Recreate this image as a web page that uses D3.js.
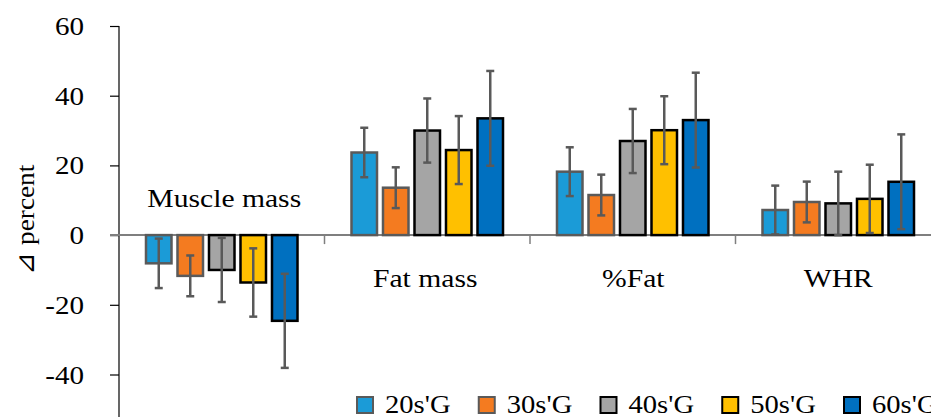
<!DOCTYPE html>
<html><head><meta charset="utf-8">
<script src="https://cdn.jsdelivr.net/npm/d3@7"></script>
<style>body{margin:0;background:#fff}svg{display:block}text{font-family:"Liberation Serif","DejaVu Serif",serif;fill:#000}</style>
</head><body><svg id="c" width="931" height="417"></svg>
<script>
const categories = ["Muscle mass","Fat mass","%Fat","WHR"];
const series = ["20s'G","30s'G","40s'G","50s'G","60s'G"];
const values = [
  [-8.1, 23.7, 18.2, 7.2],
  [-11.7, 13.6, 11.5, 9.5],
  [-10.0, 30.0, 27.0, 9.1],
  [-13.6, 24.4, 30.1, 10.4],
  [-24.6, 33.5, 33.0, 15.3]
];
const errors = [
  [7.1, 7.1, 7.0, 7.0],
  [5.85, 5.85, 5.85, 5.85],
  [9.2, 9.2, 9.2, 9.1],
  [9.8, 9.75, 9.75, 9.8],
  [13.5, 13.6, 13.6, 13.6]
];
const yTicks = [-40,-20,0,20,40,60];
const fills = ["#1B9BD7","#F47B20","#A5A5A5","#FFC000","#0070C0"];
const strokes = ["#5a5a5a","#5a5a5a","#000","#000","#000"];

const svg = d3.select("#c");
const y = d3.scaleLinear().domain([-40,60]).range([374.5,26]);
const x0 = d3.scaleBand().domain(categories).range([119, 941]);
const x1 = d3.scaleBand().domain(series).range([0,157.5]).paddingInner(0.19).paddingOuter(0.095);
const groupOff = (x0.bandwidth()-157.5)/2;

function stretchedText(parent, x, yy, str, anchor, sx){
  return parent.append("text").attr("transform",`translate(${x},${yy}) scale(${sx||1.14},1)`)
    .attr("text-anchor",anchor).style("font-size","26px").text(str);
}

// y axis
const yAxis = d3.axisLeft(y).tickValues(yTicks).tickSize(9).tickFormat(()=>"");
const ga = svg.append("g").attr("transform","translate(119,0)").call(yAxis);
ga.select(".domain").attr("d","M0,26V417").attr("stroke","#000").attr("stroke-width",1.2);
ga.selectAll(".tick line").attr("stroke","#000").attr("stroke-width",1.2);
yTicks.forEach(t=>stretchedText(svg, 84, y(t)+9, String(t), "end", 1.12));

// axis title
svg.append("text").attr("transform","translate(34,220) rotate(-90) scale(1.05,1)").attr("text-anchor","middle")
  .style("font-size","26px").text("⊿ percent");

// zero line
svg.append("line").attr("x1",110).attr("x2",931).attr("y1",y(0)).attr("y2",y(0)).attr("stroke","#7f7f7f").attr("stroke-width",2);
// category ticks
categories.slice(1).forEach(c=>{
  svg.append("line").attr("x1",x0(c)).attr("x2",x0(c)).attr("y1",y(0)).attr("y2",y(0)+9).attr("stroke","#7f7f7f").attr("stroke-width",1.5);
});

// bars
series.forEach((s,i)=>{
  const g = svg.append("g");
  categories.forEach((c,j)=>{
    const v = values[i][j];
    const bx = x0(c)+groupOff+x1(s);
    g.append("rect").attr("x",bx).attr("width",x1.bandwidth())
      .attr("y",y(Math.max(0,v))).attr("height",Math.abs(y(v)-y(0)))
      .attr("fill",fills[i]).attr("stroke",strokes[i]).attr("stroke-width",2.5);
  });
});
// error bars
series.forEach((s,i)=>{
  categories.forEach((c,j)=>{
    const v = values[i][j], e = errors[i][j];
    const cx = x0(c)+groupOff+x1(s)+x1.bandwidth()/2;
    const g = svg.append("g").attr("stroke","#595959").attr("stroke-width",2.5);
    g.append("line").attr("x1",cx).attr("x2",cx).attr("y1",y(v+e)).attr("y2",y(v-e));
    g.append("line").attr("x1",cx-4).attr("x2",cx+4).attr("y1",y(v+e)).attr("y2",y(v+e));
    g.append("line").attr("x1",cx-4).attr("x2",cx+4).attr("y1",y(v-e)).attr("y2",y(v-e));
  });
});

// category labels
categories.forEach((c,j)=>{
  stretchedText(svg, x0(c)+x0.bandwidth()/2+[2.5,-2,0.5,0][j], [206.5,286.5,286.5,286.5][j], c, "middle");
});

// legend
const lg = svg.append("g");
series.forEach((s,i)=>{
  const lx = 357 + i*121.75;
  lg.append("rect").attr("x",lx).attr("y",397).attr("width",16).attr("height",16)
    .attr("fill",fills[i]).attr("stroke",strokes[i]).attr("stroke-width",2);
  stretchedText(lg, lx+28, 413, s, "start", 1.1);
});
</script></body></html>
